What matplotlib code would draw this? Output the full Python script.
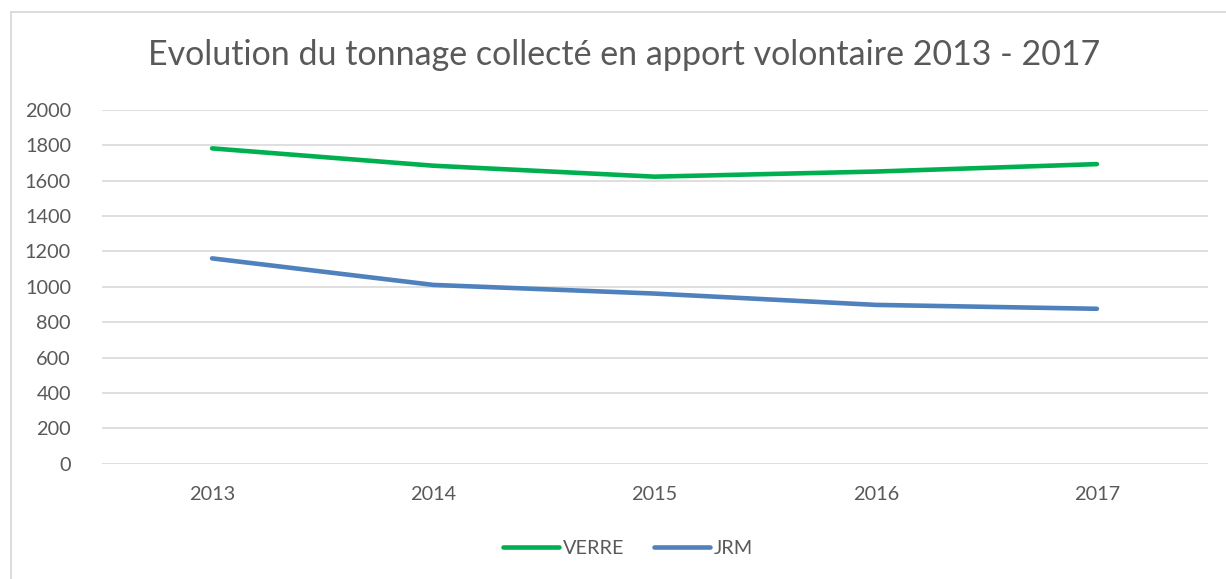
import matplotlib
matplotlib.use("Agg")
import matplotlib.pyplot as plt
from matplotlib.lines import Line2D

years = ["2013", "2014", "2015", "2016", "2017"]
verre = [1783, 1685, 1623, 1652, 1694]
jrm = [1161, 1011, 962, 898, 876]
yticks = [0, 200, 400, 600, 800, 1000, 1200, 1400, 1600, 1800, 2000]

plt.rcParams['font.family'] = ['Lato', 'DejaVu Sans']
W, H = 1226, 579
fig = plt.figure(figsize=(W / 100, H / 100), dpi=100)
fig.patch.set_facecolor('white')

# outer chart border (top and left edges visible)
fig.add_artist(Line2D([10.5 / W, 1.0], [1 - 11.5 / H, 1 - 11.5 / H],
                      transform=fig.transFigure, color='#D9D9D9', linewidth=1.3))
fig.add_artist(Line2D([10.5 / W, 10.5 / W], [0, 1 - 11.5 / H],
                      transform=fig.transFigure, color='#D9D9D9', linewidth=1.3))

ax = fig.add_axes([101.5 / W, 115.3 / H, (1207.5 - 101.5) / W, (463.7 - 110) / H])
x = list(range(len(years)))
ax.plot(x, verre, color='#00B050', linewidth=3.3, solid_capstyle='round',
        solid_joinstyle='round', label='VERRE', zorder=3)
ax.plot(x, jrm, color='#4F81BD', linewidth=3.3, solid_capstyle='round',
        solid_joinstyle='round', label='JRM', zorder=3)

ax.set_xlim(-0.5, len(years) - 0.5)
ax.set_ylim(0, 2000)
ax.set_yticks(yticks)
ax.set_xticks(x)
ax.set_xticklabels(years)
ax.grid(axis='y', color='#D9D9D9', linewidth=1.2)
ax.set_axisbelow(True)
for s in ax.spines.values():
    s.set_visible(False)
ax.tick_params(axis='both', length=0, colors='#595959', labelsize=14.3)
ax.tick_params(axis='y', pad=22)
ax.tick_params(axis='x', pad=16)

fig.text(624 / W, 1 - 55 / H, "Evolution du tonnage collecté en apport volontaire 2013 - 2017",
         ha='center', va='center', fontsize=24.5, color='#595959')

leg = fig.legend(loc='center', bbox_to_anchor=(628 / W, 1 - 548 / H), ncol=2,
                 frameon=False, fontsize=14.3, handlelength=2.8,
                 handletextpad=0.2, columnspacing=1.5)
for t in leg.get_texts():
    t.set_color('#595959')

fig.savefig('out.png', dpi=100, facecolor='white')
